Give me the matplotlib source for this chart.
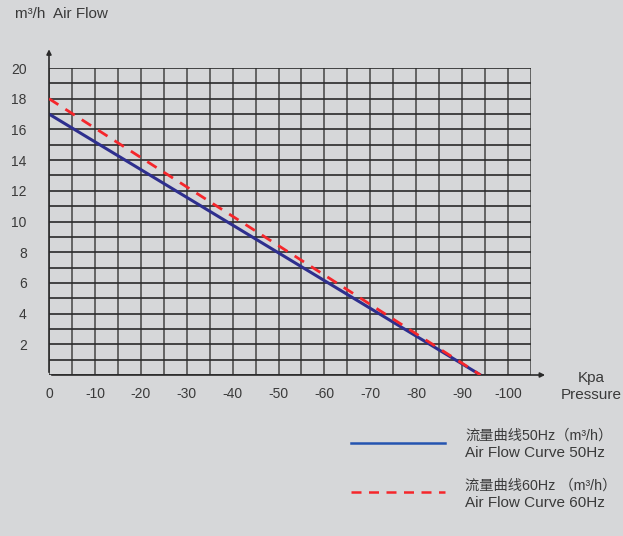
import numpy as np
import matplotlib.pyplot as plt

plt.rcParams['font.family'] = ['Liberation Sans', 'Noto Sans CJK SC', 'DejaVu Sans']

# data
pressure_50 = [0, -94]
flow_50 = [17, 0]
pressure_60 = [0, -94]
flow_60 = [18, 0]
xticks = [0, -10, -20, -30, -40, -50, -60, -70, -80, -90, -100]
yticks = [2, 4, 6, 8, 10, 12, 14, 16, 18, 20]
legend_cn = ["流量曲线50Hz（m³/h）", "流量曲线60Hz （m³/h）"]
legend_en = ["Air Flow Curve 50Hz", "Air Flow Curve 60Hz"]

bg = '#d6d7d9'
txt = '#3a3a3a'
fig = plt.figure(figsize=(6.23, 5.36), dpi=100, facecolor=bg)
ax = fig.add_axes([49/623, 1-375/536, (531-49)/623, (375-68)/536])
ax.set_facecolor(bg)

# grid
for x in np.arange(0, -106, -5):
    ax.axvline(x, color='#505050', lw=1.2, zorder=1)
for y in range(0, 21):
    ax.axhline(y, color='#2a2a2a', lw=1.2, zorder=1)

ax.plot(pressure_50, flow_50, color='#2e2f8e', lw=2.2, zorder=3)
ax.plot(pressure_60, flow_60, color='#f5262b', lw=2.0, dashes=(4, 3), zorder=4)

ax.set_xlim(0, -105)
ax.set_ylim(0, 20)
for s in ax.spines.values():
    s.set_visible(False)
ax.tick_params(length=0, colors=txt, labelsize=10)
ax.set_xticks(xticks)
ax.set_xticklabels([str(v) for v in xticks])
ax.set_yticks(yticks)
ax.tick_params(axis='x', pad=9)
ax.tick_params(axis='y', pad=16)

# axis arrows
ax.annotate('', xy=(0, 1.07), xytext=(0, 0), xycoords='axes fraction',
            arrowprops=dict(arrowstyle='-|>', color='#2a2a2a', lw=1.2, mutation_scale=7))
ax.annotate('', xy=(1.035, 0), xytext=(0, 0), xycoords='axes fraction',
            arrowprops=dict(arrowstyle='-|>', color='#2a2a2a', lw=1.2, mutation_scale=7))

fig.text(15/623, 1-14/536, 'm³/h  Air Flow', color=txt, fontsize=11, va='center')
fig.text(591/623, 1-378/536, 'Kpa', color=txt, fontsize=11, ha='center', va='center')
fig.text(591/623, 1-395/536, 'Pressure', color=txt, fontsize=11, ha='center', va='center')

# legend
fig.add_artist(plt.Line2D([351/623, 445/623], [1-443/536, 1-443/536], color='#2454b0', lw=1.8))
fig.add_artist(plt.Line2D([351/623, 445/623], [1-492/536, 1-492/536], color='#f5262b', lw=1.8, dashes=(4, 3)))
for i, yc in enumerate([436, 486]):
    fig.text(465/623, 1-yc/536, legend_cn[i], color=txt, fontsize=10.3, va='center')
    fig.text(465/623, 1-(yc+17)/536, legend_en[i], color=txt, fontsize=11, va='center')

fig.savefig('out.png', dpi=100, facecolor=bg)
